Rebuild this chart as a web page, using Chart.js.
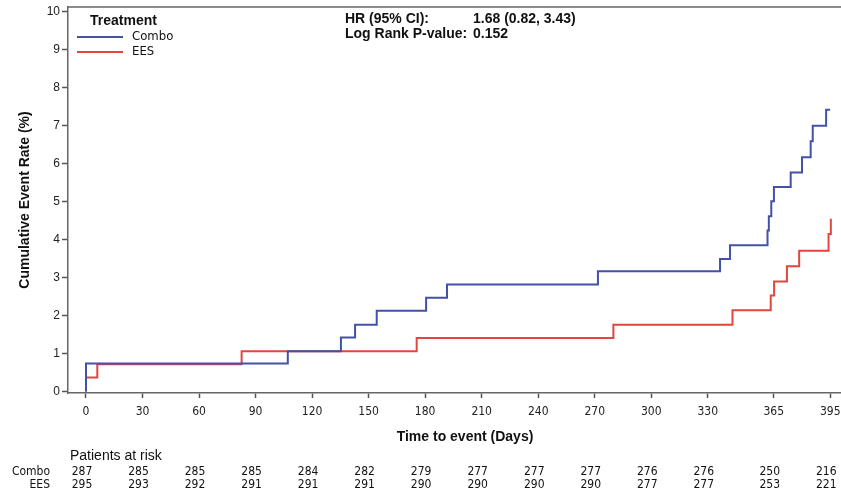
<!DOCTYPE html>
<html>
<head>
<meta charset="utf-8">
<script src="https://cdn.jsdelivr.net/npm/chart.js@4.4.0/dist/chart.umd.min.js"></script>
<style>
    html, body { margin: 0; padding: 0; background: #fff; }
</style>
</head>
<body>
<canvas id="kmChart" width="841" height="500"></canvas>
<script>
// Axis ticks (days) and labels
const tickDays = [0, 30, 60, 90, 120, 150, 180, 210, 240, 270, 300, 330, 365, 395];
const rateTicks = [0, 1, 2, 3, 4, 5, 6, 7, 8, 9, 10];

// Kaplan-Meier steps (day, cumulative event rate %)
const comboDays = [0, 0, 107.1, 135.3, 142.8, 154.3, 180.5, 191.6, 271.7, 336.5, 341.8, 361.7, 362.4, 363.7, 365.1, 374, 380, 384.6, 385.7, 392.8, 394.9];
const comboRate = [0, 0.74, 1.06, 1.42, 1.76, 2.13, 2.47, 2.82, 3.17, 3.49, 3.85, 4.24, 4.62, 5.01, 5.39, 5.77, 6.17, 6.59, 7.0, 7.42, 7.42];
const eesDays = [0, 0, 6, 82.6, 175.5, 279.9, 343.1, 363.4, 365.2, 372, 378.5, 394.1, 395.3];
const eesRate = [0, 0.37, 0.72, 1.06, 1.41, 1.76, 2.14, 2.53, 2.90, 3.30, 3.71, 4.15, 4.55];

// Patients at risk table
const riskCombo = [287, 285, 285, 285, 284, 282, 279, 277, 277, 277, 276, 276, 250, 216];
const riskEes = [295, 293, 292, 291, 291, 291, 290, 290, 290, 290, 277, 277, 253, 221];

const hrValue = "1.68 (0.82, 3.43)";
const pValue = "0.152";

const blue = "#4351a8";
const red = "#e2463c";
const narrow = "'Liberation Sans Narrow', 'DejaVu Sans Condensed', 'Liberation Sans', sans-serif";
const regular = "'Liberation Sans', Arial, sans-serif";

function toPoints(days, rates) {
    return days.map((d, i) => ({ x: d, y: rates[i] }));
}

// Extra texts: legend, HR box, axis titles, risk table, top frame
const extras = {
    id: "extras",
    afterDraw(chart) {
        const ctx = chart.ctx;
        const area = chart.chartArea;
        const xs = chart.scales.x;
        ctx.save();

        // top frame line
        ctx.strokeStyle = "#666";
        ctx.lineWidth = 1.5;
        ctx.beginPath();
        ctx.moveTo(area.left, area.top);
        ctx.lineTo(area.right, area.top);
        ctx.stroke();

        ctx.fillStyle = "#111";
        ctx.textBaseline = "middle";

        // legend
        ctx.textAlign = "left";
        ctx.font = "bold 14px " + regular;
        ctx.fillText("Treatment", 90, 21);
        ctx.lineWidth = 2;
        ctx.strokeStyle = blue;
        ctx.beginPath(); ctx.moveTo(77, 37); ctx.lineTo(123, 37); ctx.stroke();
        ctx.strokeStyle = red;
        ctx.beginPath(); ctx.moveTo(77, 52); ctx.lineTo(123, 52); ctx.stroke();
        ctx.font = "13px " + narrow;
        ctx.fillText("Combo", 132, 37);
        ctx.fillText("EES", 132, 52);

        // hazard ratio box
        ctx.font = "bold 14px " + regular;
        ctx.fillText("HR (95% CI):", 345, 19);
        ctx.fillText("Log Rank P-value:", 345, 34);
        ctx.fillText(hrValue, 473, 19);
        ctx.fillText(pValue, 473, 34);

        // axis titles
        ctx.textAlign = "center";
        ctx.fillText("Time to event (Days)", 465, 437);
        ctx.save();
        ctx.translate(25, 200);
        ctx.rotate(-Math.PI / 2);
        ctx.fillText("Cumulative Event Rate (%)", 0, 0);
        ctx.restore();

        // patients at risk
        ctx.textAlign = "left";
        ctx.font = "14px " + regular;
        ctx.fillText("Patients at risk", 70, 456);
        ctx.font = "12px " + narrow;
        ctx.textAlign = "right";
        ctx.fillText("Combo", 50, 472);
        ctx.fillText("EES", 50, 485);
        ctx.textAlign = "center";
        tickDays.forEach((d, i) => {
            const px = xs.getPixelForValue(d) - 4;
            ctx.fillText(String(riskCombo[i]), px, 472);
            ctx.fillText(String(riskEes[i]), px, 485);
        });

        ctx.restore();
    }
};

new Chart(document.getElementById("kmChart"), {
    type: "line",
    data: {
        datasets: [
            {
                label: "Combo",
                data: toPoints(comboDays, comboRate),
                borderColor: blue,
                borderWidth: 2,
                stepped: true,
                pointRadius: 0,
                fill: false
            },
            {
                label: "EES",
                data: toPoints(eesDays, eesRate),
                borderColor: red,
                borderWidth: 2,
                stepped: true,
                pointRadius: 0,
                fill: false
            }
        ]
    },
    options: {
        responsive: false,
        devicePixelRatio: 1,
        animation: false,
        layout: { padding: { top: 7, right: 0, left: 0, bottom: 0 } },
        plugins: {
            legend: { display: false },
            tooltip: { enabled: false }
        },
        scales: {
            x: {
                type: "linear",
                min: -9.55,
                max: 400.7,
                afterBuildTicks: (scale) => { scale.ticks = tickDays.map(v => ({ value: v })); },
                afterFit: (scale) => { scale.height = 107; scale.paddingLeft = 0; scale.paddingRight = 0; },
                ticks: {
                    autoSkip: false,
                    maxRotation: 0,
                    padding: 7,
                    color: "#222",
                    font: { family: narrow, size: 12 }
                },
                grid: { drawOnChartArea: false, tickLength: 5, color: "#555", tickWidth: 1.5 },
                border: { color: "#666", width: 1.5 }
            },
            y: {
                min: -0.04,
                max: 10.13,
                afterBuildTicks: (scale) => { scale.ticks = rateTicks.map(v => ({ value: v })); },
                afterFit: (scale) => { scale.width = 68; scale.paddingTop = 0; scale.paddingBottom = 0; },
                ticks: {
                    padding: 2,
                    color: "#222",
                    font: { family: regular, size: 12 }
                },
                grid: { drawOnChartArea: false, tickLength: 6, color: "#555", tickWidth: 1.5 },
                border: { color: "#666", width: 1.5 }
            }
        }
    },
    plugins: [extras]
});
</script>
</body>
</html>
